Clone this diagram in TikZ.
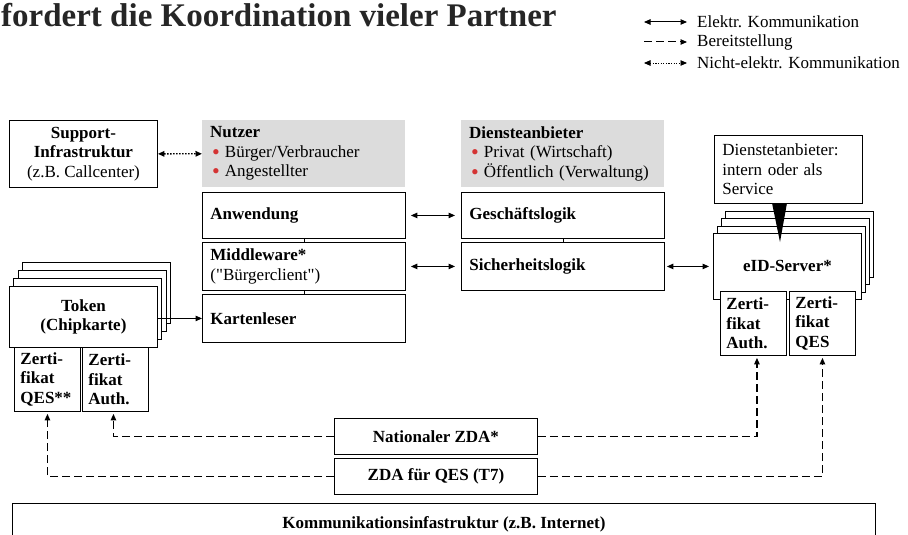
\documentclass[tikz,border=0pt]{standalone}
\usepackage{fontspec}
\setmainfont{Liberation Serif}
\usetikzlibrary{arrows.meta,positioning}
\definecolor{bred}{RGB}{212,52,52}
\definecolor{hgray}{RGB}{220,220,220}
\newcommand{\bfs}{\fontsize{17}{19.5}\selectfont}
\newcommand{\itm}{\hspace*{2pt}\textcolor{bred}{\smash{\raisebox{-.25ex}{\scalebox{1.3}{\textbullet}}}}\hspace{5pt}}
\tikzset{
  bx/.style ={draw,line width=.9pt,fill=white,font=\bfs,anchor=north west,
              align=center,inner xsep=6pt,inner ysep=1pt},
  lbx/.style={bx,align=left,inner xsep=8pt},
  gbx/.style={fill=hgray,font=\bfs,anchor=north west,align=left,inner xsep=8pt},
  zbx/.style={bx,align=left,inner xsep=6pt,minimum width=66pt,text width=54pt,
              minimum height=64pt,font=\bfs\bfseries},
  ar/.style ={-{Triangle[length=6.5pt,width=5.5pt]},line width=1pt},
  dar/.style={{Triangle[length=6.5pt,width=5.5pt]}-{Triangle[length=6.5pt,width=5.5pt]},
              line width=1pt},
  dsh/.style={ar,line width=1.2pt,dash pattern=on 8pt off 4pt},
  dtt/.style={dar,line width=.9pt,dash pattern=on 1.2pt off 1.4pt},
  hdr/.style={font=\fontsize{33}{38}\selectfont\bfseries,text=black!85},
}

\begin{document}
\begin{tikzpicture}[x=1pt,y=-1pt]
  \useasboundingbox (0,0) rectangle (908,535);
  \node[hdr,anchor=base west,inner sep=0pt] (ttl) at (1,27)
        {fordert die Koordination vieler Partner};
  \foreach \n/\y/\t in {1/22/Elektr. Kommunikation,2/42/Bereitstellung,
                        3/63/Nicht-elektr. Kommunikation}{
    \coordinate (lg\n) at (644,\y);
    \node[font=\bfs,anchor=west,inner sep=0pt] (le\n) at (697,\y) {\t};
  }
  \draw[dar] (lg1) -- ([xshift=-10pt]le1.west);
  \draw[dsh,line width=1pt] (lg2) -- ([xshift=-10pt]le2.west);
  \draw[dtt] (lg3) -- ([xshift=-10pt]le3.west);

  \node[bx,minimum width=148pt,minimum height=67pt] (sup) at (9,120)
        {\textbf{Support-}\\\textbf{Infrastruktur}\\(z.B. Callcenter)};
  \node[gbx,minimum width=203pt,minimum height=67pt,text width=187pt] (nutzer) at (202,120)
        {\textbf{Nutzer}\\\itm Bürger/Verbraucher\\\itm Angestellter};
  \node[gbx,minimum width=203pt,minimum height=67pt,text width=187pt] (dienst) at (461,120)
        {\textbf{Diensteanbieter}\\\itm Privat (Wirtschaft)\\\itm Öffentlich (Verwaltung)};
  \node[lbx,minimum width=148pt,minimum height=68pt,text width=132pt] (co) at (714,135)
        {Dienstetanbieter:\\intern oder als\\Service};

  \node[lbx,minimum width=203pt,minimum height=46pt,text width=187pt] (anw) at (202,192)
        {\textbf{Anwendung}};
  \node[lbx,minimum width=203pt,minimum height=48pt,text width=187pt] (mw) at (202,242)
        {\textbf{Middleware*}\\(\textquotedbl Bürgerclient\textquotedbl)};
  \node[lbx,minimum width=203pt,minimum height=48pt,text width=187pt] (kl) at (202,294)
        {\textbf{Kartenleser}};
  \node[lbx,minimum width=203pt,minimum height=46pt,text width=187pt] (gl) at (461,192)
        {\textbf{Geschäftslogik}};
  \node[lbx,minimum width=203pt,minimum height=48pt,text width=187pt] (sl) at (461,242)
        {\textbf{Sicherheitslogik}};
  \draw[line width=.9pt] (anw) -- (mw) (mw) -- (kl) (gl) -- (sl);

  \foreach \i in {3,2,1}
    \node[bx,minimum width=148pt,minimum height=61pt] (tokl\i) at (9+4.3*\i,286-8*\i) {};
  \node[bx,minimum width=148pt,minimum height=61pt,font=\bfs\bfseries] (tok) at (9,286)
        {Token\\(Chipkarte)};
  \node[zbx] (tokqes)  at (14,347) {Zerti-\\fikat\\QES**};
  \node[zbx] (tokauth) at (82,347) {Zerti-\\fikat\\Auth.};

  \foreach \i in {3,2,1}
    \node[bx,minimum width=148pt,minimum height=66pt] (eidl\i) at (713+4*\i,233-7.5*\i) {};
  \node[bx,minimum width=148pt,minimum height=66pt,font=\bfs\bfseries] (eid) at (713,233)
        {eID-Server*};
  \node[zbx] (eidauth) at (720,291) {Zerti-\\fikat\\Auth.};
  \node[zbx] (eidqes)  at (789,291) {Zerti-\\fikat\\QES};
  \fill (772,203) -- (787,203) -- (780,242) -- cycle;

  \node[bx,minimum width=203pt,minimum height=36pt,font=\bfs\bfseries] (nzda) at (334,418)
        {Nationaler ZDA*};
  \node[bx,minimum width=203pt,minimum height=36pt,font=\bfs\bfseries] (qzda) at (334,458)
        {ZDA für QES (T7)};
  \node[bx,minimum width=863pt,minimum height=42pt,font=\bfs\bfseries] (komm) at (12,503)
        {Kommunikationsinfastruktur (z.B. Internet)};

  \draw[dtt,line width=1.3pt,dash pattern=on 1.5pt off 1.5pt] (sup) -- (nutzer);
  \draw[dar,shorten <=5pt,shorten >=6pt] (anw) -- (gl);
  \draw[dar,shorten <=5pt,shorten >=6pt] (mw) -- (sl);
  \draw[dar,shorten <=2pt,shorten >=4pt] (sl) -- (eid);
  \draw[ar] (tok.east |- kl.west) -- (kl.west);
  \draw[dsh,shorten >=2pt] (nzda.west) -| ([xshift=-2pt]tokauth.south);
  \draw[dsh,shorten >=2pt] (nzda.east) -| ([xshift=3.5pt]eidauth.south);
  \draw[dsh,shorten >=2pt] (qzda.west) -| (tokqes.south);
  \draw[dsh,shorten >=2pt] (qzda.east) -| (eidqes.south);
\end{tikzpicture}
\end{document}
